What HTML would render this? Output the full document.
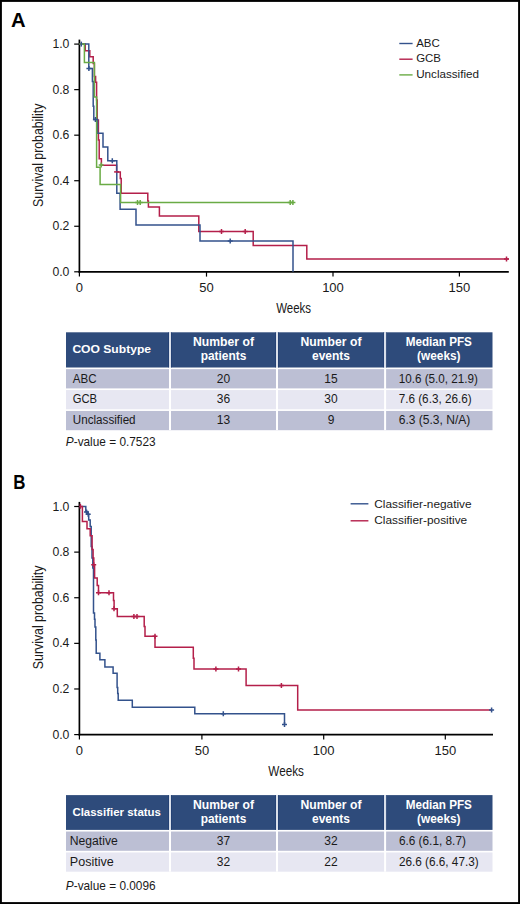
<!DOCTYPE html>
<html><head><meta charset="utf-8"><title>Figure</title>
<style>
html,body{margin:0;padding:0;background:#fff;}
body{width:520px;height:904px;position:relative;overflow:hidden;font-family:"Liberation Sans", sans-serif;}
</style></head><body>
<svg width="520" height="904" viewBox="0 0 520 904" style="position:absolute;left:0;top:0" font-family='"Liberation Sans", sans-serif' fill="#1a1a1a">
<text x="10.9" y="26.9" font-size="19.3" font-weight="bold" fill="#000" textLength="14.6" lengthAdjust="spacingAndGlyphs">A</text>
<path d="M79.4,39.6 V272.7" stroke="#000" stroke-width="1.7"/>
<path d="M78.55000000000001,271.8 H508.8" stroke="#000" stroke-width="1.7"/>
<path d="M74.2,271.80 H79.4" stroke="#000" stroke-width="1.2"/>
<text x="69.4" y="275.8" font-size="13" text-anchor="end" textLength="17.0" lengthAdjust="spacingAndGlyphs">0.0</text>
<path d="M74.2,226.26 H79.4" stroke="#000" stroke-width="1.2"/>
<text x="69.4" y="230.26" font-size="13" text-anchor="end" textLength="17.0" lengthAdjust="spacingAndGlyphs">0.2</text>
<path d="M74.2,180.72 H79.4" stroke="#000" stroke-width="1.2"/>
<text x="69.4" y="184.72" font-size="13" text-anchor="end" textLength="17.0" lengthAdjust="spacingAndGlyphs">0.4</text>
<path d="M74.2,135.18 H79.4" stroke="#000" stroke-width="1.2"/>
<text x="69.4" y="139.18" font-size="13" text-anchor="end" textLength="17.0" lengthAdjust="spacingAndGlyphs">0.6</text>
<path d="M74.2,89.64 H79.4" stroke="#000" stroke-width="1.2"/>
<text x="69.4" y="93.64" font-size="13" text-anchor="end" textLength="17.0" lengthAdjust="spacingAndGlyphs">0.8</text>
<path d="M74.2,44.10 H79.4" stroke="#000" stroke-width="1.2"/>
<text x="69.4" y="48.1" font-size="13" text-anchor="end" textLength="17.0" lengthAdjust="spacingAndGlyphs">1.0</text>
<path d="M79.40,271.8 V276.60" stroke="#000" stroke-width="1.2"/>
<text x="79.4" y="292.3" font-size="13" text-anchor="middle">0</text>
<path d="M206.50,271.8 V276.60" stroke="#000" stroke-width="1.2"/>
<text x="206.5" y="292.3" font-size="13" text-anchor="middle">50</text>
<path d="M333.00,271.8 V276.60" stroke="#000" stroke-width="1.2"/>
<text x="333.0" y="292.3" font-size="13" text-anchor="middle">100</text>
<path d="M459.40,271.8 V276.60" stroke="#000" stroke-width="1.2"/>
<text x="459.4" y="292.3" font-size="13" text-anchor="middle">150</text>
<text x="276.2" y="313.4" font-size="15.5" textLength="34.8" lengthAdjust="spacingAndGlyphs">Weeks</text>
<text transform="translate(43.2,206.9) rotate(-90)" x="0" y="0" font-size="15" textLength="103.3" lengthAdjust="spacingAndGlyphs">Survival probability</text>
<path d="M399.3,43.5 H412.6" stroke="#33528c" stroke-width="1.4"/>
<text x="416.2" y="46.5" font-size="11.6" textLength="23.6" lengthAdjust="spacingAndGlyphs">ABC</text>
<path d="M399.3,59.2 H412.6" stroke="#b41f4a" stroke-width="1.4"/>
<text x="416.2" y="62.2" font-size="11.6" textLength="24.8" lengthAdjust="spacingAndGlyphs">GCB</text>
<path d="M399.3,74.9 H412.6" stroke="#6aab45" stroke-width="1.4"/>
<text x="416.2" y="78.1" font-size="11.6" textLength="62.8" lengthAdjust="spacingAndGlyphs">Unclassified</text>
<path d="M79.40,44.10 L85.20,44.10 L85.20,50.70 L89.80,50.70 L89.80,56.80 L93.20,56.80 L93.20,63.50 L94.40,63.50 L94.40,76.40 L95.60,76.40 L95.60,82.20 L96.60,82.20 L96.60,100.00 L97.20,100.00 L97.20,120.10 L98.40,120.10 L98.40,140.00 L99.20,140.00 L99.20,158.80 L101.40,158.80 L101.40,165.20 L116.60,165.20 L116.60,171.90 L120.30,171.90 L120.30,178.60 L121.20,178.60 L121.20,193.30 L147.80,193.30 L147.80,201.10 L148.40,201.10 L148.40,207.10 L159.40,207.10 L159.40,216.00 L198.80,216.00 L198.80,231.50 L253.20,231.50 L253.20,245.40 L306.80,245.40 L306.80,259.10 L508.80,259.10" fill="none" stroke="#b41f4a" stroke-width="1.5" stroke-linejoin="miter" stroke-linecap="butt"/>
<path d="M79.40,44.10 L88.80,44.10 L88.80,68.50 L92.40,68.50 L92.40,81.40 L93.20,81.40 L93.20,106.30 L93.80,106.30 L93.80,119.50 L97.50,119.50 L97.50,133.30 L103.00,133.30 L103.00,147.10 L107.80,147.10 L107.80,160.80 L116.80,160.80 L116.80,193.30 L120.10,193.30 L120.10,209.20 L136.00,209.20 L136.00,225.00 L200.00,225.00 L200.00,240.90 L293.00,240.90 L293.00,271.80" fill="none" stroke="#33528c" stroke-width="1.5" stroke-linejoin="miter" stroke-linecap="butt"/>
<path d="M79.40,44.10 L84.40,44.10 L84.40,62.40 L94.40,62.40 L94.40,97.10 L96.60,97.10 L96.60,167.30 L100.10,167.30 L100.10,184.60 L120.60,184.60 L120.60,202.40 L293.60,202.40" fill="none" stroke="#6aab45" stroke-width="1.5" stroke-linejoin="miter" stroke-linecap="butt"/>
<path d="M81.30,41.60 V46.60" stroke="#33528c" stroke-width="1.5" fill="none"/>
<path d="M88.90,66.00 V71.00 M86.40,68.50 H91.40" stroke="#33528c" stroke-width="1.5" fill="none"/>
<path d="M95.40,117.00 V122.00 M92.90,119.50 H97.90" stroke="#33528c" stroke-width="1.5" fill="none"/>
<path d="M112.30,158.30 V163.30 M109.80,160.80 H114.80" stroke="#33528c" stroke-width="1.5" fill="none"/>
<path d="M230.20,238.40 V243.40 M227.70,240.90 H232.70" stroke="#33528c" stroke-width="1.5" fill="none"/>
<path d=" M114.10,171.90 H119.10" stroke="#b41f4a" stroke-width="1.5" fill="none"/>
<path d="M221.50,229.00 V234.00 M219.00,231.50 H224.00" stroke="#b41f4a" stroke-width="1.5" fill="none"/>
<path d="M245.20,229.00 V234.00 M242.70,231.50 H247.70" stroke="#b41f4a" stroke-width="1.5" fill="none"/>
<path d="M506.50,256.60 V261.60 M504.00,259.10 H509.00" stroke="#b41f4a" stroke-width="1.5" fill="none"/>
<path d="M101.20,162.50 V167.50 M98.70,165.00 H103.70" stroke="#6aab45" stroke-width="1.5" fill="none"/>
<path d="M137.50,199.90 V204.90 M135.00,202.40 H140.00" stroke="#6aab45" stroke-width="1.5" fill="none"/>
<path d="M140.20,199.90 V204.90 M137.70,202.40 H142.70" stroke="#6aab45" stroke-width="1.5" fill="none"/>
<path d="M290.20,199.90 V204.90 M287.70,202.40 H292.70" stroke="#6aab45" stroke-width="1.5" fill="none"/>
<path d="M292.90,199.90 V204.90 M290.40,202.40 H295.40" stroke="#6aab45" stroke-width="1.5" fill="none"/>
<rect x="66" y="332.3" width="426.5" height="35.2" fill="#2e4b7b"/>
<rect x="66" y="369.15" width="426.5" height="19.25" fill="#bcbfd4"/>
<rect x="66" y="390.05" width="426.5" height="19.25" fill="#e7e7f2"/>
<rect x="66" y="410.95" width="426.5" height="19.25" fill="#bcbfd4"/>
<rect x="169.00" y="332.3" width="2.0" height="97.90" fill="#fff"/>
<rect x="168.40" y="332.3" width="0.6" height="35.2" fill="#1f3b70"/>
<rect x="171.00" y="332.3" width="0.6" height="35.2" fill="#1f3b70"/>
<rect x="169.00" y="332.3" width="2.0" height="35.2" fill="#d9dfea"/>
<rect x="276.00" y="332.3" width="2.0" height="97.90" fill="#fff"/>
<rect x="275.40" y="332.3" width="0.6" height="35.2" fill="#1f3b70"/>
<rect x="278.00" y="332.3" width="0.6" height="35.2" fill="#1f3b70"/>
<rect x="276.00" y="332.3" width="2.0" height="35.2" fill="#d9dfea"/>
<rect x="384.10" y="332.3" width="2.0" height="97.90" fill="#fff"/>
<rect x="383.50" y="332.3" width="0.6" height="35.2" fill="#1f3b70"/>
<rect x="386.10" y="332.3" width="0.6" height="35.2" fill="#1f3b70"/>
<rect x="384.10" y="332.3" width="2.0" height="35.2" fill="#d9dfea"/>
<text x="72.4" y="353.4" font-size="11.8" font-weight="bold" fill="#fff" textLength="78.6" lengthAdjust="spacingAndGlyphs">COO Subtype</text>
<text x="223.5" y="346.1" font-size="12.2" text-anchor="middle" font-weight="bold" fill="#fff" textLength="60.9" lengthAdjust="spacingAndGlyphs">Number of</text>
<text x="223.5" y="359.6" font-size="12.0" text-anchor="middle" font-weight="bold" fill="#fff" textLength="45.5" lengthAdjust="spacingAndGlyphs">patients</text>
<text x="331.0" y="346.1" font-size="12.2" text-anchor="middle" font-weight="bold" fill="#fff" textLength="60.9" lengthAdjust="spacingAndGlyphs">Number of</text>
<text x="331.0" y="359.6" font-size="12.0" text-anchor="middle" font-weight="bold" fill="#fff" textLength="38.0" lengthAdjust="spacingAndGlyphs">events</text>
<text x="438.8" y="346.1" font-size="12.2" text-anchor="middle" font-weight="bold" fill="#fff" textLength="66.1" lengthAdjust="spacingAndGlyphs">Median PFS</text>
<text x="438.8" y="359.6" font-size="12.0" text-anchor="middle" font-weight="bold" fill="#fff" textLength="43.4" lengthAdjust="spacingAndGlyphs">(weeks)</text>
<text x="72.8" y="382.55" font-size="12" textLength="23.8" lengthAdjust="spacingAndGlyphs">ABC</text>
<text x="223.5" y="382.55" font-size="12" text-anchor="middle">20</text>
<text x="331.0" y="382.55" font-size="12" text-anchor="middle">15</text>
<text x="398.7" y="382.55" font-size="12" textLength="79.2" lengthAdjust="spacingAndGlyphs">10.6 (5.0, 21.9)</text>
<text x="72.8" y="403.45" font-size="12" textLength="24.3" lengthAdjust="spacingAndGlyphs">GCB</text>
<text x="223.5" y="403.45" font-size="12" text-anchor="middle">36</text>
<text x="331.0" y="403.45" font-size="12" text-anchor="middle">30</text>
<text x="398.7" y="403.45" font-size="12" textLength="72.9" lengthAdjust="spacingAndGlyphs">7.6 (6.3, 26.6)</text>
<text x="72.8" y="424.35" font-size="12" textLength="62.8" lengthAdjust="spacingAndGlyphs">Unclassified</text>
<text x="223.5" y="424.35" font-size="12" text-anchor="middle">13</text>
<text x="331.0" y="424.35" font-size="12" text-anchor="middle">9</text>
<text x="398.7" y="424.35" font-size="12" textLength="71.6" lengthAdjust="spacingAndGlyphs">6.3 (5.3, N/A)</text>
<text x="65.8" y="445.7" font-size="12.2" textLength="89.8" lengthAdjust="spacingAndGlyphs"><tspan font-style="italic">P</tspan>-value = 0.7523</text>
<text x="13.2" y="488.7" font-size="19.3" font-weight="bold" fill="#000" textLength="12.2" lengthAdjust="spacingAndGlyphs">B</text>
<path d="M79.4,501.9 V735.5" stroke="#000" stroke-width="1.7"/>
<path d="M78.55000000000001,734.6 H493.0" stroke="#000" stroke-width="1.7"/>
<path d="M74.2,734.60 H79.4" stroke="#000" stroke-width="1.2"/>
<text x="69.4" y="738.6" font-size="13" text-anchor="end" textLength="17.0" lengthAdjust="spacingAndGlyphs">0.0</text>
<path d="M74.2,688.98 H79.4" stroke="#000" stroke-width="1.2"/>
<text x="69.4" y="692.98" font-size="13" text-anchor="end" textLength="17.0" lengthAdjust="spacingAndGlyphs">0.2</text>
<path d="M74.2,643.36 H79.4" stroke="#000" stroke-width="1.2"/>
<text x="69.4" y="647.36" font-size="13" text-anchor="end" textLength="17.0" lengthAdjust="spacingAndGlyphs">0.4</text>
<path d="M74.2,597.74 H79.4" stroke="#000" stroke-width="1.2"/>
<text x="69.4" y="601.74" font-size="13" text-anchor="end" textLength="17.0" lengthAdjust="spacingAndGlyphs">0.6</text>
<path d="M74.2,552.12 H79.4" stroke="#000" stroke-width="1.2"/>
<text x="69.4" y="556.12" font-size="13" text-anchor="end" textLength="17.0" lengthAdjust="spacingAndGlyphs">0.8</text>
<path d="M74.2,506.50 H79.4" stroke="#000" stroke-width="1.2"/>
<text x="69.4" y="510.5" font-size="13" text-anchor="end" textLength="17.0" lengthAdjust="spacingAndGlyphs">1.0</text>
<path d="M79.40,734.6 V739.40" stroke="#000" stroke-width="1.2"/>
<text x="79.4" y="754.9" font-size="13" text-anchor="middle">0</text>
<path d="M201.90,734.6 V739.40" stroke="#000" stroke-width="1.2"/>
<text x="201.9" y="754.9" font-size="13" text-anchor="middle">50</text>
<path d="M323.70,734.6 V739.40" stroke="#000" stroke-width="1.2"/>
<text x="323.7" y="754.9" font-size="13" text-anchor="middle">100</text>
<path d="M445.30,734.6 V739.40" stroke="#000" stroke-width="1.2"/>
<text x="445.3" y="754.9" font-size="13" text-anchor="middle">150</text>
<text x="268.3" y="776.2" font-size="15.5" textLength="35.6" lengthAdjust="spacingAndGlyphs">Weeks</text>
<text transform="translate(43.2,669.2) rotate(-90)" x="0" y="0" font-size="15" textLength="103.5" lengthAdjust="spacingAndGlyphs">Survival probability</text>
<path d="M350.6,503.8 H368.4" stroke="#33528c" stroke-width="1.4"/>
<text x="374.3" y="507.6" font-size="11.6" textLength="97.3" lengthAdjust="spacingAndGlyphs">Classifier-negative</text>
<path d="M350.6,520.8 H368.4" stroke="#b41f4a" stroke-width="1.4"/>
<text x="374.3" y="524.2" font-size="11.6" textLength="92.9" lengthAdjust="spacingAndGlyphs">Classifier-positive</text>
<path d="M79.40,506.40 L85.80,506.40 L85.80,511.50 L87.50,511.50 L87.50,514.00 L88.70,514.00 L88.70,520.00 L90.20,520.00 L90.20,526.50 L91.20,526.50 L91.20,546.50 L92.00,546.50 L92.00,558.00 L92.80,558.00 L92.80,568.00 L93.50,568.00 L93.50,613.00 L94.50,613.00 L94.50,619.20 L95.00,619.20 L95.00,627.00 L95.80,627.00 L95.80,640.00 L96.20,640.00 L96.20,653.20 L99.90,653.20 L99.90,659.80 L104.90,659.80 L104.90,666.90 L113.10,666.90 L113.10,673.30 L117.10,673.30 L117.10,687.40 L117.70,687.40 L117.70,693.40 L118.20,693.40 L118.20,700.30 L132.30,700.30 L132.30,707.30 L194.80,707.30 L194.80,713.70 L284.50,713.70 L284.50,724.60" fill="none" stroke="#33528c" stroke-width="1.5" stroke-linejoin="miter" stroke-linecap="butt"/>
<path d="M79.40,506.40 L82.40,506.40 L82.40,521.40 L87.00,521.40 L87.00,528.80 L90.20,528.80 L90.20,535.80 L92.10,535.80 L92.10,549.60 L93.10,549.60 L93.10,558.00 L93.80,558.00 L93.80,566.00 L94.60,566.00 L94.60,578.10 L97.20,578.10 L97.20,585.40 L98.50,585.40 L98.50,592.70 L113.50,592.70 L113.50,600.40 L114.10,600.40 L114.10,608.70 L117.30,608.70 L117.30,616.50 L144.20,616.50 L144.20,626.50 L145.00,626.50 L145.00,636.20 L155.00,636.20 L155.00,647.30 L193.30,647.30 L193.30,658.30 L194.00,658.30 L194.00,669.00 L246.10,669.00 L246.10,685.50 L297.70,685.50 L297.70,710.10 L491.60,710.10" fill="none" stroke="#b41f4a" stroke-width="1.5" stroke-linejoin="miter" stroke-linecap="butt"/>
<path d="M80.40,503.80 V508.80" stroke="#b41f4a" stroke-width="1.5" fill="none"/>
<path d="M93.70,562.30 V567.30 M91.20,564.80 H96.20" stroke="#b41f4a" stroke-width="1.5" fill="none"/>
<path d="M98.50,590.20 V595.20 M96.00,592.70 H101.00" stroke="#b41f4a" stroke-width="1.5" fill="none"/>
<path d="M109.00,590.20 V595.20 M106.50,592.70 H111.50" stroke="#b41f4a" stroke-width="1.5" fill="none"/>
<path d="M114.00,606.20 V611.20 M111.50,608.70 H116.50" stroke="#b41f4a" stroke-width="1.5" fill="none"/>
<path d="M133.90,614.00 V619.00 M131.40,616.50 H136.40" stroke="#b41f4a" stroke-width="1.5" fill="none"/>
<path d="M137.00,614.00 V619.00 M134.50,616.50 H139.50" stroke="#b41f4a" stroke-width="1.5" fill="none"/>
<path d="M155.00,633.70 V638.70 M152.50,636.20 H157.50" stroke="#b41f4a" stroke-width="1.5" fill="none"/>
<path d="M215.90,666.50 V671.50 M213.40,669.00 H218.40" stroke="#b41f4a" stroke-width="1.5" fill="none"/>
<path d="M238.50,666.50 V671.50 M236.00,669.00 H241.00" stroke="#b41f4a" stroke-width="1.5" fill="none"/>
<path d="M281.40,683.00 V688.00 M278.90,685.50 H283.90" stroke="#b41f4a" stroke-width="1.5" fill="none"/>
<path d="M86.50,509.50 V514.50 M84.00,512.00 H89.00" stroke="#33528c" stroke-width="1.5" fill="none"/>
<path d="M88.20,511.70 V516.70 M85.70,514.20 H90.70" stroke="#33528c" stroke-width="1.5" fill="none"/>
<path d="M223.30,711.20 V716.20 M220.80,713.70 H225.80" stroke="#33528c" stroke-width="1.5" fill="none"/>
<path d="M284.50,722.10 V727.10 M282.00,724.60 H287.00" stroke="#33528c" stroke-width="1.5" fill="none"/>
<path d="M491.60,707.60 V712.60 M489.10,710.10 H494.10" stroke="#33528c" stroke-width="1.5" fill="none"/>
<rect x="66" y="795.1" width="426.5" height="34.8" fill="#2e4b7b"/>
<rect x="66" y="831.55" width="426.5" height="19.25" fill="#bcbfd4"/>
<rect x="66" y="852.45" width="426.5" height="19.25" fill="#e7e7f2"/>
<rect x="169.00" y="795.1" width="2.0" height="76.60" fill="#fff"/>
<rect x="168.40" y="795.1" width="0.6" height="34.8" fill="#1f3b70"/>
<rect x="171.00" y="795.1" width="0.6" height="34.8" fill="#1f3b70"/>
<rect x="169.00" y="795.1" width="2.0" height="34.8" fill="#d9dfea"/>
<rect x="276.00" y="795.1" width="2.0" height="76.60" fill="#fff"/>
<rect x="275.40" y="795.1" width="0.6" height="34.8" fill="#1f3b70"/>
<rect x="278.00" y="795.1" width="0.6" height="34.8" fill="#1f3b70"/>
<rect x="276.00" y="795.1" width="2.0" height="34.8" fill="#d9dfea"/>
<rect x="384.10" y="795.1" width="2.0" height="76.60" fill="#fff"/>
<rect x="383.50" y="795.1" width="0.6" height="34.8" fill="#1f3b70"/>
<rect x="386.10" y="795.1" width="0.6" height="34.8" fill="#1f3b70"/>
<rect x="384.10" y="795.1" width="2.0" height="34.8" fill="#d9dfea"/>
<text x="72.4" y="816.2" font-size="11.8" font-weight="bold" fill="#fff" textLength="88.6" lengthAdjust="spacingAndGlyphs">Classifier status</text>
<text x="223.5" y="808.9" font-size="12.2" text-anchor="middle" font-weight="bold" fill="#fff" textLength="60.9" lengthAdjust="spacingAndGlyphs">Number of</text>
<text x="223.5" y="822.6" font-size="12.0" text-anchor="middle" font-weight="bold" fill="#fff" textLength="45.5" lengthAdjust="spacingAndGlyphs">patients</text>
<text x="331.0" y="808.9" font-size="12.2" text-anchor="middle" font-weight="bold" fill="#fff" textLength="60.9" lengthAdjust="spacingAndGlyphs">Number of</text>
<text x="331.0" y="822.6" font-size="12.0" text-anchor="middle" font-weight="bold" fill="#fff" textLength="38.0" lengthAdjust="spacingAndGlyphs">events</text>
<text x="438.8" y="808.9" font-size="12.2" text-anchor="middle" font-weight="bold" fill="#fff" textLength="66.1" lengthAdjust="spacingAndGlyphs">Median PFS</text>
<text x="438.8" y="822.6" font-size="12.0" text-anchor="middle" font-weight="bold" fill="#fff" textLength="43.4" lengthAdjust="spacingAndGlyphs">(weeks)</text>
<text x="69.8" y="844.95" font-size="12" textLength="48.0" lengthAdjust="spacingAndGlyphs">Negative</text>
<text x="223.5" y="844.95" font-size="12" text-anchor="middle">37</text>
<text x="331.0" y="844.95" font-size="12" text-anchor="middle">32</text>
<text x="398.9" y="844.95" font-size="12" textLength="67.0" lengthAdjust="spacingAndGlyphs">6.6 (6.1, 8.7)</text>
<text x="69.8" y="865.85" font-size="12" textLength="44.0" lengthAdjust="spacingAndGlyphs">Positive</text>
<text x="223.5" y="865.85" font-size="12" text-anchor="middle">32</text>
<text x="331.0" y="865.85" font-size="12" text-anchor="middle">22</text>
<text x="398.9" y="865.85" font-size="12" textLength="79.8" lengthAdjust="spacingAndGlyphs">26.6 (6.6, 47.3)</text>
<text x="65.8" y="889.7" font-size="12.2" textLength="89.8" lengthAdjust="spacingAndGlyphs"><tspan font-style="italic">P</tspan>-value = 0.0096</text>
<rect x="0.95" y="0.95" width="518.1" height="902.1" fill="none" stroke="#000" stroke-width="1.9"/>
</svg>
</body></html>
